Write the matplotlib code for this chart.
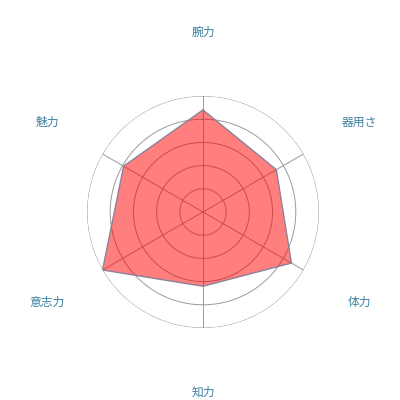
import numpy as np
import matplotlib
matplotlib.use("Agg")
import matplotlib.pyplot as plt

plt.rcParams['font.family'] = ['Noto Sans CJK JP', 'DejaVu Sans']

# axes run clockwise from the top
labels = ['腕力', '器用さ', '体力', '知力', '意志力', '魅力']
values = [4.4, 3.65, 4.4, 3.2, 5.0, 3.95]
rings = [1, 2, 3, 4, 5]

n = len(labels)
angles = np.linspace(0, 2 * np.pi, n, endpoint=False)

fig = plt.figure(figsize=(4, 4), dpi=100)
ax = fig.add_axes([0.2175, 0.18, 0.58, 0.58], projection='polar')
ax.set_theta_zero_location('N')
ax.set_theta_direction(-1)
ax.set_ylim(0, 5)
ax.axis('off')

# grid circles and spokes
t = np.linspace(0, 2 * np.pi, 400)
for r in rings:
    ax.plot(t, np.full_like(t, r), color='#9a9a9a', lw=0.7, zorder=1)
for a in angles:
    ax.plot([a, a], [0, rings[-1]], color='#9a9a9a', lw=0.7, zorder=1)

# data polygon
a_closed = np.append(angles, angles[0])
v_closed = np.append(values, values[0])
ax.fill(a_closed, v_closed, color=(1, 0, 0, 0.5), zorder=2, lw=0)
ax.plot(a_closed, v_closed, color='#8c8199', lw=1.0, zorder=3)

# category labels
for a, lab in zip(angles, labels):
    ax.text(a, 7.76, lab, ha='center', va='center', fontsize=8.5,
            color='#3b7f9e', clip_on=False)

fig.savefig('out.png', dpi=100)
